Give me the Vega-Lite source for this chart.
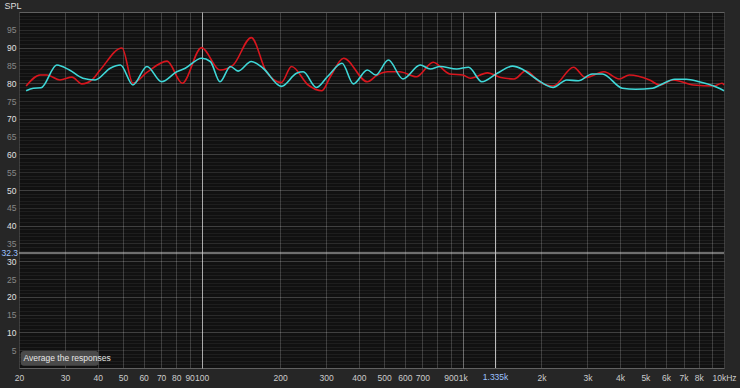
{
  "$schema": "https://vega.github.io/schema/vega-lite/v6.json",
  "width": 705,
  "height": 356,
  "autosize": {"type": "none"},
  "padding": {"left": 19, "top": 12, "right": 16, "bottom": 20},
  "background": "#262626",
  "config": {
    "view": {"fill": "#111111", "stroke": "#3a3a3a"},
    "font": "Liberation Sans"
  },
  "datasets": {
    "curves": [
      {"s": "red", "f": 21.3, "db": 79.2},
      {"s": "red", "f": 24.1, "db": 82.3},
      {"s": "red", "f": 25.6, "db": 82.3},
      {"s": "red", "f": 28.7, "db": 80.9},
      {"s": "red", "f": 31.9, "db": 81.7},
      {"s": "red", "f": 34.8, "db": 79.8},
      {"s": "red", "f": 38.0, "db": 80.9},
      {"s": "red", "f": 40.9, "db": 83.7},
      {"s": "red", "f": 49.6, "db": 89.9},
      {"s": "red", "f": 54.6, "db": 80.0},
      {"s": "red", "f": 61.9, "db": 83.1},
      {"s": "red", "f": 73.8, "db": 86.2},
      {"s": "red", "f": 84.3, "db": 80.0},
      {"s": "red", "f": 100, "db": 90.0},
      {"s": "red", "f": 117.6, "db": 83.7},
      {"s": "red", "f": 132, "db": 85.1},
      {"s": "red", "f": 155, "db": 92.8},
      {"s": "red", "f": 177, "db": 83.2},
      {"s": "red", "f": 202, "db": 80.2},
      {"s": "red", "f": 221, "db": 84.7},
      {"s": "red", "f": 256, "db": 79.5},
      {"s": "red", "f": 289, "db": 77.9},
      {"s": "red", "f": 311, "db": 81.8},
      {"s": "red", "f": 350, "db": 87.0},
      {"s": "red", "f": 431, "db": 80.4},
      {"s": "red", "f": 471, "db": 82.3},
      {"s": "red", "f": 516, "db": 83.2},
      {"s": "red", "f": 573, "db": 83.2},
      {"s": "red", "f": 664, "db": 81.8},
      {"s": "red", "f": 770, "db": 85.9},
      {"s": "red", "f": 891, "db": 82.6},
      {"s": "red", "f": 1000, "db": 82.3},
      {"s": "red", "f": 1070, "db": 81.4},
      {"s": "red", "f": 1243, "db": 82.9},
      {"s": "red", "f": 1398, "db": 81.6},
      {"s": "red", "f": 1572, "db": 81.2},
      {"s": "red", "f": 1744, "db": 83.5},
      {"s": "red", "f": 1966, "db": 80.4},
      {"s": "red", "f": 2217, "db": 79.2},
      {"s": "red", "f": 2654, "db": 84.5},
      {"s": "red", "f": 2945, "db": 81.6},
      {"s": "red", "f": 3472, "db": 83.2},
      {"s": "red", "f": 3970, "db": 81.2},
      {"s": "red", "f": 4341, "db": 82.3},
      {"s": "red", "f": 5190, "db": 80.9},
      {"s": "red", "f": 5677, "db": 79.5},
      {"s": "red", "f": 6390, "db": 80.9},
      {"s": "red", "f": 7637, "db": 79.5},
      {"s": "red", "f": 9130, "db": 79.2},
      {"s": "red", "f": 9830, "db": 80.0},
      {"s": "red", "f": 10000, "db": 79.5},
      {"s": "cyan", "f": 21.3, "db": 77.9},
      {"s": "cyan", "f": 22.7, "db": 78.6},
      {"s": "cyan", "f": 24.3, "db": 78.7},
      {"s": "cyan", "f": 27.9, "db": 85.1},
      {"s": "cyan", "f": 31.2, "db": 83.7},
      {"s": "cyan", "f": 35.1, "db": 81.4},
      {"s": "cyan", "f": 39.1, "db": 80.9},
      {"s": "cyan", "f": 44.7, "db": 84.2},
      {"s": "cyan", "f": 48.9, "db": 85.1},
      {"s": "cyan", "f": 54.6, "db": 79.5},
      {"s": "cyan", "f": 61.8, "db": 84.7},
      {"s": "cyan", "f": 70.3, "db": 80.4},
      {"s": "cyan", "f": 80.3, "db": 83.2},
      {"s": "cyan", "f": 86.6, "db": 84.2},
      {"s": "cyan", "f": 100, "db": 87.0},
      {"s": "cyan", "f": 108, "db": 86.1},
      {"s": "cyan", "f": 117.6, "db": 80.4},
      {"s": "cyan", "f": 129, "db": 84.7},
      {"s": "cyan", "f": 138, "db": 83.4},
      {"s": "cyan", "f": 155, "db": 86.1},
      {"s": "cyan", "f": 172, "db": 84.2},
      {"s": "cyan", "f": 202, "db": 79.1},
      {"s": "cyan", "f": 231, "db": 82.8},
      {"s": "cyan", "f": 245, "db": 83.2},
      {"s": "cyan", "f": 275, "db": 78.8},
      {"s": "cyan", "f": 303, "db": 81.8},
      {"s": "cyan", "f": 345, "db": 85.6},
      {"s": "cyan", "f": 381, "db": 79.8},
      {"s": "cyan", "f": 431, "db": 83.7},
      {"s": "cyan", "f": 464, "db": 82.3},
      {"s": "cyan", "f": 519, "db": 86.5},
      {"s": "cyan", "f": 590, "db": 81.2},
      {"s": "cyan", "f": 687, "db": 85.1},
      {"s": "cyan", "f": 751, "db": 84.0},
      {"s": "cyan", "f": 819, "db": 84.7},
      {"s": "cyan", "f": 948, "db": 84.0},
      {"s": "cyan", "f": 1053, "db": 84.5},
      {"s": "cyan", "f": 1183, "db": 80.4},
      {"s": "cyan", "f": 1355, "db": 82.8},
      {"s": "cyan", "f": 1551, "db": 84.8},
      {"s": "cyan", "f": 1691, "db": 83.9},
      {"s": "cyan", "f": 1875, "db": 81.6},
      {"s": "cyan", "f": 2217, "db": 78.8},
      {"s": "cyan", "f": 2500, "db": 80.9},
      {"s": "cyan", "f": 2770, "db": 80.7},
      {"s": "cyan", "f": 3130, "db": 82.6},
      {"s": "cyan", "f": 3420, "db": 82.6},
      {"s": "cyan", "f": 4080, "db": 78.6},
      {"s": "cyan", "f": 4590, "db": 78.3},
      {"s": "cyan", "f": 5330, "db": 78.6},
      {"s": "cyan", "f": 5700, "db": 79.5},
      {"s": "cyan", "f": 6480, "db": 81.1},
      {"s": "cyan", "f": 7180, "db": 81.1},
      {"s": "cyan", "f": 8040, "db": 80.4},
      {"s": "cyan", "f": 9130, "db": 79.2},
      {"s": "cyan", "f": 10000, "db": 77.9}
    ],
    "hcursor": [{"db": 32.3, "label": "32.3", "f": 20}],
    "vcursor": [{"f": 1335, "label": "1.335k", "db": 0}],
    "button": [{"f": 20.3, "f2": 40.4, "db": 0.6, "db2": 4.8, "tf": 20.8, "tdb": 2.7, "label": "Average the responses"}]
  },
  "layer": [
    {
      "data": {"name": "curves"},
      "mark": {"type": "line", "interpolate": "monotone", "strokeWidth": 1.6},
      "encoding": {
        "x": {
          "field": "f", "type": "quantitative",
          "scale": {"type": "log", "domain": [20, 10000], "nice": false},
          "axis": {
            "title": null,
            "values": [20, 30, 40, 50, 60, 70, 80, 90, 100, 200, 300, 400, 500, 600, 700, 800, 900, 1000, 2000, 3000, 4000, 5000, 6000, 7000, 8000, 9000, 10000],
            "labelExpr": "datum.value == 800 || datum.value == 9000 ? '' : datum.value >= 10000 ? '10kHz' : datum.value >= 1000 ? (datum.value / 1000) + 'k' : '' + datum.value",
            "ticks": false,
            "domain": false,
            "labelOverlap": false,
            "labelFlush": false,
            "labelColor": "#cccccc",
            "labelFontSize": 8.5,
            "labelPadding": 5,
            "grid": true,
            "gridWidth": 1,
            "gridColor": {
              "condition": [
                {"test": "datum.value == 100", "value": "#a8a8a8"},
                {"test": "datum.value == 1000", "value": "#6a6a6a"}
              ],
              "value": "#3c3c3c"
            }
          }
        },
        "y": {
          "field": "db", "type": "quantitative",
          "scale": {"domain": [0, 100], "nice": false},
          "axis": {
            "title": "SPL",
            "titleAngle": 0,
            "titleAlign": "left",
            "titleBaseline": "top",
            "titleX": -15,
            "titleY": -11,
            "titleColor": "#dddddd",
            "titleFontSize": 9,
            "titleFontWeight": "normal",
            "tickCount": 100,
            "labelExpr": "datum.value % 5 === 0 && datum.value > 0 && datum.value < 100 ? datum.label : ''",
            "ticks": false,
            "domain": false,
            "labelOverlap": false,
            "labelFlush": false,
            "labelFontSize": 8.5,
            "labelPadding": 3,
            "labelColor": {
              "condition": {"test": "datum.value % 10 === 0", "value": "#e0e0e0"},
              "value": "#888888"
            },
            "grid": true,
            "gridColor": {
              "condition": [
                {"test": "datum.value % 10 === 0", "value": "rgba(255,255,255,0.2)"},
                {"test": "datum.value % 5 === 0", "value": "rgba(255,255,255,0.11)"}
              ],
              "value": "rgba(255,255,255,0.055)"
            }
          }
        },
        "color": {
          "field": "s", "type": "nominal",
          "scale": {"domain": ["red", "cyan"], "range": ["#d8161e", "#3fd8d8"]},
          "legend": null
        }
      }
    },
    {
      "data": {"name": "hcursor"},
      "mark": {"type": "rule", "color": "#cfcfcf", "strokeWidth": 1},
      "encoding": {"y": {"field": "db", "type": "quantitative"}}
    },
    {
      "data": {"name": "vcursor"},
      "mark": {"type": "rule", "color": "#c8c8c8", "strokeWidth": 1},
      "encoding": {"x": {"field": "f", "type": "quantitative"}}
    },
    {
      "data": {"name": "hcursor"},
      "mark": {"type": "text", "align": "right", "baseline": "middle", "dx": -1, "fontSize": 8.5, "color": "#9cc2ff"},
      "encoding": {
        "x": {"field": "f", "type": "quantitative"},
        "y": {"field": "db", "type": "quantitative"},
        "text": {"field": "label"}
      }
    },
    {
      "data": {"name": "vcursor"},
      "mark": {"type": "text", "align": "center", "baseline": "top", "dy": 5, "fontSize": 8.5, "color": "#9cc2ff"},
      "encoding": {
        "x": {"field": "f", "type": "quantitative"},
        "y": {"field": "db", "type": "quantitative"},
        "text": {"field": "label"}
      }
    },
    {
      "data": {"name": "button"},
      "mark": {"type": "rect", "color": "#4a4a4a", "cornerRadius": 3},
      "encoding": {
        "x": {"field": "f", "type": "quantitative"},
        "x2": {"field": "f2"},
        "y": {"field": "db", "type": "quantitative"},
        "y2": {"field": "db2"}
      }
    },
    {
      "data": {"name": "button"},
      "mark": {"type": "text", "align": "left", "baseline": "middle", "fontSize": 8.5, "color": "#e6e6e6"},
      "encoding": {
        "x": {"field": "tf", "type": "quantitative"},
        "y": {"field": "tdb", "type": "quantitative"},
        "text": {"field": "label"}
      }
    }
  ]
}
